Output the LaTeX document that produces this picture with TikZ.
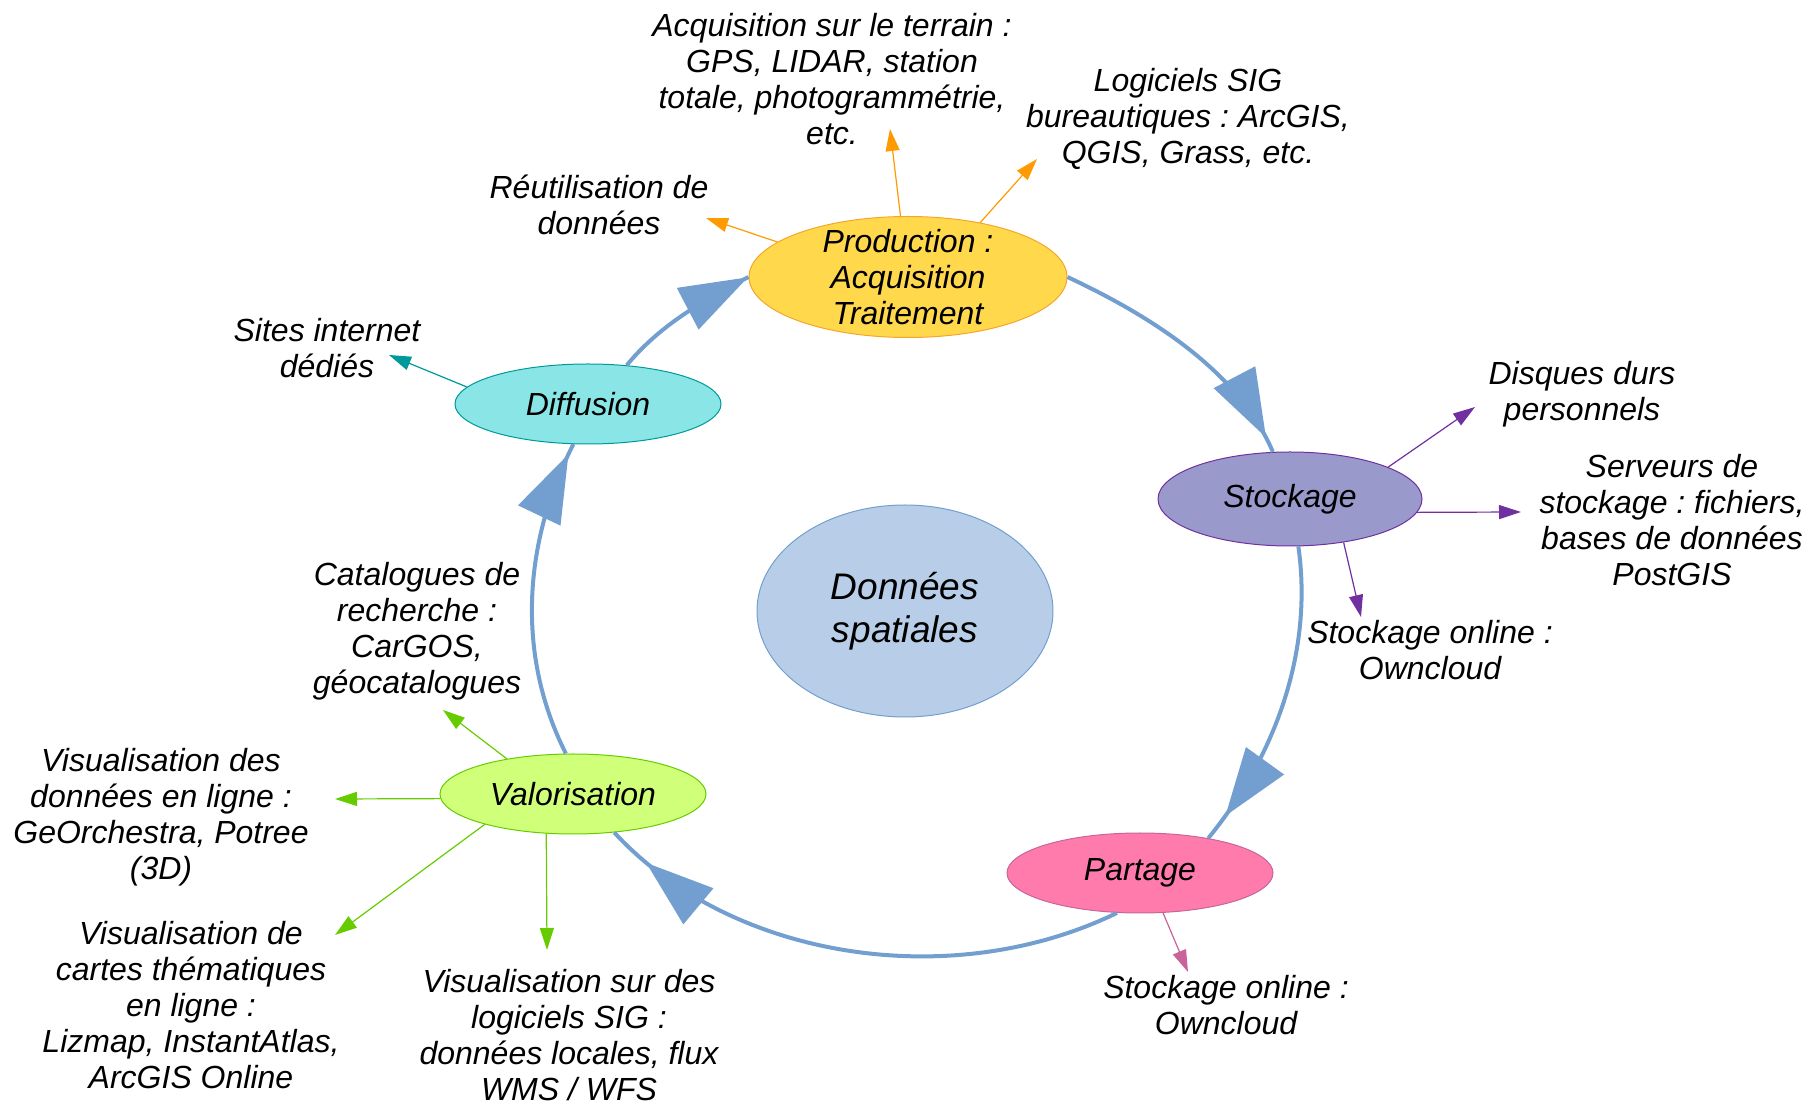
\documentclass[tikz,border=0pt]{standalone}
\usepackage{fontspec}
\setmainfont{Liberation Sans}
\frenchspacing
\usetikzlibrary{shapes.geometric,arrows.meta,decorations.markings}
\definecolor{cycblue}{HTML}{729FCF}
\definecolor{prodfill}{HTML}{FFD84C}
\definecolor{prodline}{HTML}{F5A62A}
\definecolor{prodarrow}{HTML}{FF9A00}
\definecolor{stockfill}{HTML}{9999CC}
\definecolor{stockline}{HTML}{7030A0}
\definecolor{partfill}{HTML}{FF7BAC}
\definecolor{partline}{HTML}{C8649A}
\definecolor{valfill}{HTML}{D0FF7A}
\definecolor{valline}{HTML}{66CC00}
\definecolor{difffill}{HTML}{8AE6E6}
\definecolor{diffline}{HTML}{009999}
\definecolor{centerfill}{HTML}{B8CEE8}
\begin{document}
\begin{tikzpicture}[x=0.5pt,y=-0.5pt,
  lbl/.style={font=\fontsize{16}{18}\selectfont\itshape, align=center, inner sep=0pt},
  bubble/.style={ellipse, inner sep=0pt, line width=0.5pt, font=\fontsize{16}{18}\selectfont\itshape, align=center},
  cyc/.style={draw=cycblue, line width=2pt, postaction={decorate},
    decoration={markings, mark=at position #1 with {\arrow{Triangle[length=34pt,width=23pt]}}}},
  small/.style={line width=0.6pt, -{Triangle[length=11pt,width=7pt]}},
]
\useasboundingbox (0,0) rectangle (1812,1106);

% central node
\node[bubble, fill=centerfill, draw=cycblue, minimum width=148pt, minimum height=106pt,
  font=\fontsize{18.5}{21.5}\selectfont\itshape] (center) at (905,611) {\raisebox{-4pt}{Données}\\\raisebox{-4pt}{spatiales}};

% cycle nodes
\node[bubble, fill=prodfill, draw=prodline, minimum width=159pt, minimum height=60.5pt, inner sep=-6pt]
  (prod) at (908,277) {Production :\\Acquisition\\Traitement};
\node[bubble, fill=stockfill, draw=stockline, minimum width=132pt, minimum height=47pt]
  (stock) at (1290,499) {\raisebox{-1pt}{Stockage}};
\node[bubble, fill=partfill, draw=partline, minimum width=133pt, minimum height=40pt]
  (part) at (1140,873) {\raisebox{-1.5pt}{Partage}};
\node[bubble, fill=valfill, draw=valline, minimum width=133pt, minimum height=40pt]
  (val) at (573,794) {Valorisation};
\node[bubble, fill=difffill, draw=diffline, minimum width=133pt, minimum height=40pt]
  (diff) at (588,404) {Diffusion};

% cycle connectors
\draw[cyc=-8pt] (prod.east) .. controls +(81,38) and +(-35,-82) .. (stock.110);
\draw[cyc=-14pt] (stock.-80) .. controls +(15,105) and +(67,-82) .. (part.27);
\draw[cyc=-22pt] (part.-120) .. controls +(-164,80) and +(118,128) .. (val.-43);
\draw[cyc=-5.5pt] (val.100) .. controls +(-50,-99) and +(-50,98) .. (diff.-110);
\draw[cyc=-0.3pt] (diff.45) .. controls +(33,-40) and +(-46,24) .. (prod.west);

% labels
\node[lbl] (acq) at (832,79) {Acquisition sur le terrain :\\GPS, LIDAR, station\\totale, photogrammétrie,\\etc.};
\node[lbl] (logi) at (1188,119) {Logiciels SIG\\bureautiques : ArcGIS,\\QGIS, Grass, etc.};
\node[lbl] (reut) at (599,205) {Réutilisation de\\données};
\node[lbl] (sites) at (327,348) {Sites internet\\dédiés};
\node[lbl] (disq) at (1582,394) {Disques durs\\personnels};
\node[lbl] (serv) at (1672,520) {Serveurs de\\stockage : fichiers,\\bases de données\\PostGIS};
\node[lbl] (sonl) at (1430,650) {Stockage online :\\Owncloud};
\node[lbl] (ponl) at (1226,1005) {Stockage online :\\Owncloud};
\node[lbl] (catal) at (417,631) {Catalogues de\\recherche :\\CarGOS,\\géocatalogues};
\node[lbl] (vdon) at (161,817) {Visualisation des\\données en ligne :\\GeOrchestra, Potree\\(3D)};
\node[lbl] (vcart) at (191,1005) {Visualisation de\\cartes thématiques\\en ligne :\\Lizmap, InstantAtlas,\\ArcGIS Online};
\node[lbl] (vsig) at (569,1035) {Visualisation sur des\\logiciels SIG :\\données locales, flux\\WMS / WFS};

% arrow tips
\coordinate (t1) at (890,129);
\coordinate (t2) at (1037,159);
\coordinate (t3) at (706,218);
\coordinate (t4) at (389,355);
\coordinate (t5) at (1475,407);
\coordinate (t6) at (1521,512);
\coordinate (t7) at (1361,617);
\coordinate (t8) at (1188,972);
\coordinate (t9) at (443,710);
\coordinate (t10) at (335,799);
\coordinate (t11) at (335,935);
\coordinate (t12) at (547,950);

\draw[small, prodarrow] (prod.97) -- (t1);
\draw[small, prodarrow] (prod.37) -- (t2);
\draw[small, prodarrow] (prod.165) -- (t3);
\draw[small, diffline] (diff.172) -- (t4);
\draw[small, stockline] (stock.18) -- (t5);
\draw[small, stockline] (stock.-6) -- (t6);
\draw[small, stockline] (stock.-39) -- (t7);
\draw[small, partline] (part.-60) -- (t8);
\draw[small, valline] (val.152) -- (t9);
\draw[small, valline] (val.-178) -- (t10);
\draw[small, valline] (val.-161) -- (t11);
\draw[small, valline] (val.-124) -- (t12);
\end{tikzpicture}
\end{document}
